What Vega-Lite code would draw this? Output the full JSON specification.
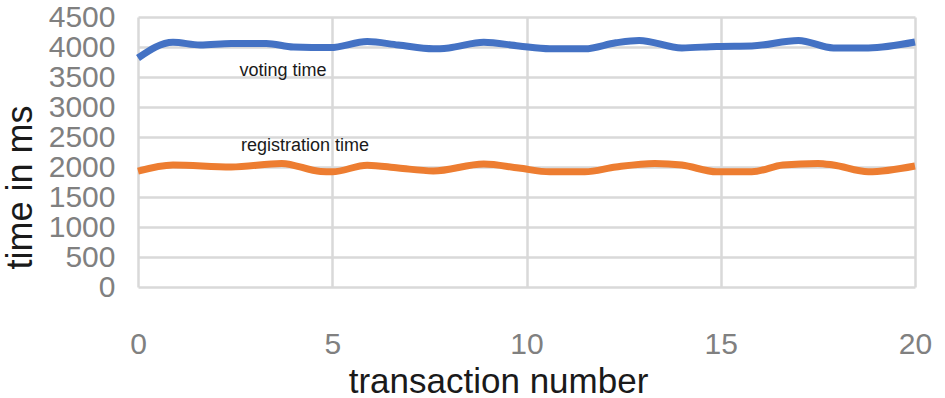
{
  "$schema": "https://vega.github.io/schema/vega-lite/v6.json",
  "width": 777,
  "height": 270,
  "autosize": {"type": "none"},
  "padding": {"left": 138, "top": 17, "right": 30, "bottom": 111},
  "background": "white",
  "config": {
    "view": {"stroke": null},
    "axis": {"gridColor": "#d9d9d9", "gridWidth": 2.5, "domain": false, "ticks": false, "labelFont": "Liberation Sans", "titleFont": "Liberation Sans", "labelColor": "#808080", "titleColor": "#1a1a1a", "titleFontWeight": "normal"}
  },
  "encoding": {
    "x": {"field": "x", "type": "quantitative", "scale": {"domain": [0, 20], "nice": false},
      "axis": {"values": [0, 5, 10, 15, 20], "format": "d", "labelFlush": false, "title": "transaction number", "labelFontSize": 30, "labelPadding": 42, "titleFontSize": 35, "titleX": 360, "titleY": 94, "titleBaseline": "middle", "titleAlign": "center"}},
    "y": {"field": "t", "type": "quantitative", "scale": {"domain": [0, 4500], "nice": false},
      "axis": {"values": [0, 500, 1000, 1500, 2000, 2500, 3000, 3500, 4000, 4500], "format": "d", "labelFlush": false, "title": "time in ms", "labelFontSize": 30, "labelPadding": 23, "labelOverlap": false, "labelBaseline": "middle", "titleFontSize": 36, "titleAngle": -90, "titleX": -118, "titleY": 170, "titleBaseline": "middle", "titleAlign": "center"}}
  },
  "layer": [
    {
      "data": {"values": [
        {"x": 0, "t": 3817, "s": "voting"},
        {"x": 0.9, "t": 4080, "s": "voting"},
        {"x": 1.6, "t": 4033, "s": "voting"},
        {"x": 2.4, "t": 4060, "s": "voting"},
        {"x": 3.3, "t": 4060, "s": "voting"},
        {"x": 4.0, "t": 4000, "s": "voting"},
        {"x": 4.95, "t": 3990, "s": "voting"},
        {"x": 5.9, "t": 4090, "s": "voting"},
        {"x": 6.7, "t": 4033, "s": "voting"},
        {"x": 7.6, "t": 3970, "s": "voting"},
        {"x": 8.0, "t": 3985, "s": "voting"},
        {"x": 8.9, "t": 4080, "s": "voting"},
        {"x": 9.8, "t": 4017, "s": "voting"},
        {"x": 10.6, "t": 3970, "s": "voting"},
        {"x": 11.5, "t": 3970, "s": "voting"},
        {"x": 12.3, "t": 4070, "s": "voting"},
        {"x": 12.9, "t": 4110, "s": "voting"},
        {"x": 14.0, "t": 3985, "s": "voting"},
        {"x": 14.9, "t": 4010, "s": "voting"},
        {"x": 15.8, "t": 4017, "s": "voting"},
        {"x": 17.0, "t": 4110, "s": "voting"},
        {"x": 17.9, "t": 3985, "s": "voting"},
        {"x": 18.8, "t": 3985, "s": "voting"},
        {"x": 20.0, "t": 4083, "s": "voting"},
        {"x": 0, "t": 1930, "s": "registration"},
        {"x": 0.9, "t": 2033, "s": "registration"},
        {"x": 2.4, "t": 2000, "s": "registration"},
        {"x": 3.7, "t": 2060, "s": "registration"},
        {"x": 4.7, "t": 1925, "s": "registration"},
        {"x": 5.0, "t": 1920, "s": "registration"},
        {"x": 5.9, "t": 2030, "s": "registration"},
        {"x": 6.7, "t": 1983, "s": "registration"},
        {"x": 7.6, "t": 1935, "s": "registration"},
        {"x": 8.9, "t": 2050, "s": "registration"},
        {"x": 9.8, "t": 1983, "s": "registration"},
        {"x": 10.6, "t": 1920, "s": "registration"},
        {"x": 11.5, "t": 1920, "s": "registration"},
        {"x": 12.3, "t": 2000, "s": "registration"},
        {"x": 13.3, "t": 2060, "s": "registration"},
        {"x": 14.0, "t": 2033, "s": "registration"},
        {"x": 14.9, "t": 1920, "s": "registration"},
        {"x": 15.8, "t": 1920, "s": "registration"},
        {"x": 16.6, "t": 2033, "s": "registration"},
        {"x": 17.5, "t": 2060, "s": "registration"},
        {"x": 17.9, "t": 2033, "s": "registration"},
        {"x": 18.8, "t": 1920, "s": "registration"},
        {"x": 20.0, "t": 2017, "s": "registration"}
      ]},
      "mark": {"type": "line", "strokeWidth": 7, "interpolate": "monotone"},
      "encoding": {
        "color": {"field": "s", "type": "nominal", "scale": {"domain": ["voting", "registration"], "range": ["#4472c4", "#ed7d31"]}, "legend": null}
      }
    },
    {
      "data": {"values": [
        {"x": 3.73, "t": 3600, "label": "voting time"},
        {"x": 4.3, "t": 2350, "label": "registration time"}
      ]},
      "mark": {"type": "text", "font": "Liberation Sans", "fontSize": 18, "color": "#1a1a1a"},
      "encoding": {
        "text": {"field": "label"}
      }
    }
  ]
}
